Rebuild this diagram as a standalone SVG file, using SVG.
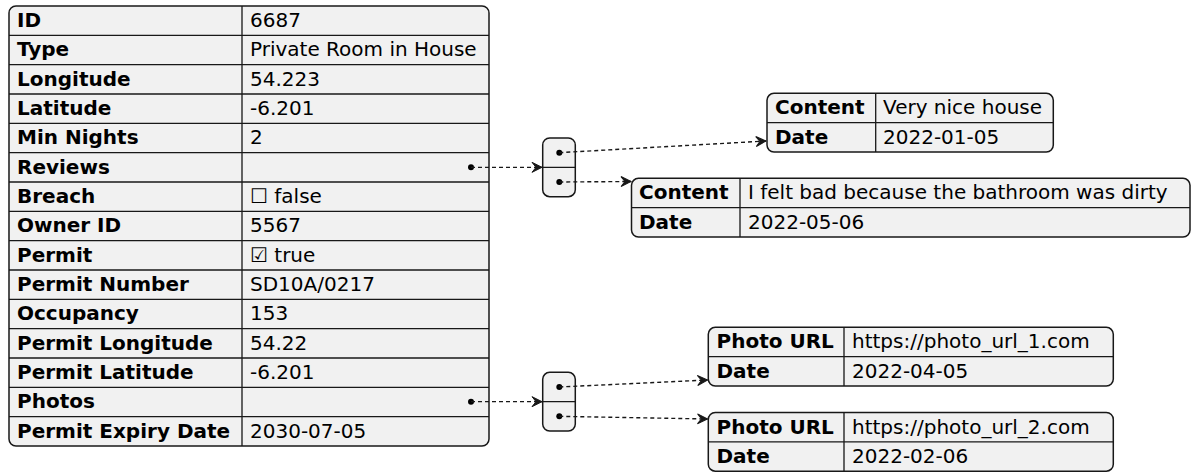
<svg xmlns="http://www.w3.org/2000/svg" width="1195" height="472" viewBox="0 0 1195 472">
<style>
.box{fill:#F1F1F1;stroke:#181818;stroke-width:1.5}
.ln{stroke:#181818;stroke-width:1.3;fill:none}
.k{font-family:"DejaVu Sans",sans-serif;font-weight:bold;font-size:20px;fill:#000}
.v{font-family:"DejaVu Sans",sans-serif;font-size:20px;fill:#000}
.dot{fill:#000}
.conn{stroke:#181818;stroke-width:1.4;fill:none;stroke-dasharray:4,3}
</style>
<defs>
<marker id="ah" viewBox="-11 -6 12 12" refX="0" refY="0" markerWidth="12" markerHeight="12" markerUnits="userSpaceOnUse" orient="auto">
<path d="M0,0 L-10,-5 L-6,0 L-10,5 Z" fill="#181818" stroke="#181818" stroke-width="1" stroke-linejoin="miter"/>
</marker>
</defs>

<g id="main">
<rect class="box" x="9" y="6" width="480" height="440" rx="7"/>
<path class="ln" d="M242,6 V446 M9,35.33 H489 M9,64.67 H489 M9,94 H489 M9,123.33 H489 M9,152.67 H489 M9,182 H489 M9,211.33 H489 M9,240.67 H489 M9,270 H489 M9,299.33 H489 M9,328.67 H489 M9,358 H489 M9,387.33 H489 M9,416.67 H489"/>
<text class="k" x="17" y="27">ID</text><text class="v" x="250" y="27">6687</text>
<text class="k" x="17" y="56.33">Type</text><text class="v" x="250" y="56.33">Private Room in House</text>
<text class="k" x="17" y="85.67">Longitude</text><text class="v" x="250" y="85.67">54.223</text>
<text class="k" x="17" y="115">Latitude</text><text class="v" x="250" y="115">-6.201</text>
<text class="k" x="17" y="144.33">Min Nights</text><text class="v" x="250" y="144.33">2</text>
<text class="k" x="17" y="173.67">Reviews</text>
<text class="k" x="17" y="203">Breach</text><text class="v" x="250" y="203">☐ false</text>
<text class="k" x="17" y="232.33">Owner ID</text><text class="v" x="250" y="232.33">5567</text>
<text class="k" x="17" y="261.67">Permit</text><text class="v" x="250" y="261.67">☑ true</text>
<text class="k" x="17" y="291">Permit Number</text><text class="v" x="250" y="291">SD10A/0217</text>
<text class="k" x="17" y="320.33">Occupancy</text><text class="v" x="250" y="320.33">153</text>
<text class="k" x="17" y="349.67">Permit Longitude</text><text class="v" x="250" y="349.67">54.22</text>
<text class="k" x="17" y="379">Permit Latitude</text><text class="v" x="250" y="379">-6.201</text>
<text class="k" x="17" y="408.33">Photos</text>
<text class="k" x="17" y="437.67">Permit Expiry Date</text><text class="v" x="250" y="437.67">2030-07-05</text>
<circle class="dot" cx="471" cy="167.33" r="3"/>
<circle class="dot" cx="471" cy="401.67" r="3"/>
</g>

<g id="reviews-array">
<rect class="box" x="542.7" y="138" width="32.6" height="58.67" rx="7"/>
<path class="ln" d="M542.7,167.33 H575.3"/>
<circle class="dot" cx="559.3" cy="152.67" r="3"/>
<circle class="dot" cx="559.3" cy="182" r="3"/>
</g>

<g id="review-1">
<rect class="box" x="767" y="93.3" width="286.3" height="58.67" rx="7"/>
<path class="ln" d="M875.7,93.3 V151.97 M767,122.63 H1053.3"/>
<text class="k" x="775" y="114.3">Content</text><text class="v" x="883" y="114.3">Very nice house</text>
<text class="k" x="775" y="143.6">Date</text><text class="v" x="883" y="143.6">2022-01-05</text>
</g>

<g id="review-2">
<rect class="box" x="631.5" y="178.3" width="558.5" height="58.67" rx="7"/>
<path class="ln" d="M740,178.3 V236.97 M631.5,207.63 H1190"/>
<text class="k" x="639" y="199.3">Content</text><text class="v" x="748" y="199.3">I felt bad because the bathroom was dirty</text>
<text class="k" x="639" y="228.6">Date</text><text class="v" x="748" y="228.6">2022-05-06</text>
</g>

<g id="photos-array">
<rect class="box" x="542.7" y="372.3" width="32.6" height="58.67" rx="7"/>
<path class="ln" d="M542.7,401.67 H575.3"/>
<circle class="dot" cx="559.3" cy="387" r="3"/>
<circle class="dot" cx="559.3" cy="416.33" r="3"/>
</g>

<g id="photo-1">
<rect class="box" x="708.3" y="327.3" width="405" height="58.67" rx="7"/>
<path class="ln" d="M844,327.3 V385.97 M708.3,356.63 H1113.3"/>
<text class="k" x="716.5" y="348.3">Photo URL</text><text class="v" x="852" y="348.3">https://photo_url_1.com</text>
<text class="k" x="716.5" y="377.6">Date</text><text class="v" x="852" y="377.6">2022-04-05</text>
</g>

<g id="photo-2">
<rect class="box" x="708.3" y="412.5" width="405" height="58.67" rx="7"/>
<path class="ln" d="M844,412.5 V471.17 M708.3,441.83 H1113.3"/>
<text class="k" x="716.5" y="433.5">Photo URL</text><text class="v" x="852" y="433.5">https://photo_url_2.com</text>
<text class="k" x="716.5" y="462.8">Date</text><text class="v" x="852" y="462.8">2022-02-06</text>
</g>

<g id="connectors">
<path class="conn" d="M471,167.33 L542,167.33" marker-end="url(#ah)"/>
<path class="conn" d="M559.3,152.67 L766,141" marker-end="url(#ah)"/>
<path class="conn" d="M559.3,182 L631,181.5" marker-end="url(#ah)"/>
<path class="conn" d="M471,401.67 L542,401.67" marker-end="url(#ah)"/>
<path class="conn" d="M559.3,387 L707.5,380" marker-end="url(#ah)"/>
<path class="conn" d="M559.3,416.33 L707.5,419" marker-end="url(#ah)"/>
</g>
</svg>
